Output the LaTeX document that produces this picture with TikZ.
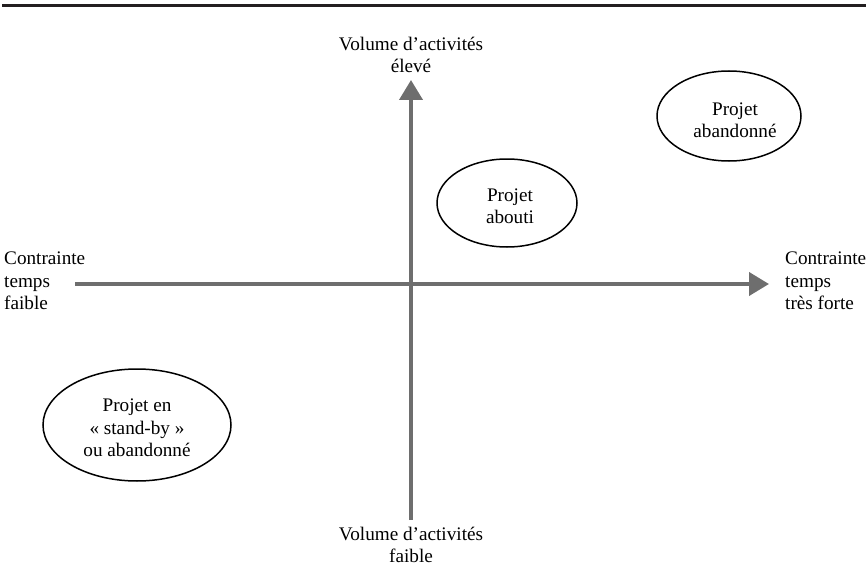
\documentclass[tikz,border=0pt]{standalone}
\usepackage{fontspec}
\setmainfont{Liberation Serif}
\usetikzlibrary{arrows.meta,shapes.geometric}
\definecolor{axisgray}{HTML}{6E6E6E}
\definecolor{rulegray}{HTML}{231F20}
\begin{document}
\begin{tikzpicture}[x=1pt,y=-1pt,
  lbl/.style={font=\fontsize{19.2}{22.5}\selectfont, align=center, inner sep=0pt},
  lblleft/.style={lbl, align=left, anchor=west},
  axisarrow/.style={draw=axisgray, line width=4pt, -{Triangle[length=20pt,width=23pt]}},
  bubble/.style={ellipse, draw=black, line width=1.5pt, inner sep=0pt},
  toprule/.style={draw=rulegray, line width=3pt}]
\useasboundingbox (0,0) rectangle (868,586);

% rule across the top
\coordinate (ruleL) at (2,5.5);
\coordinate (ruleR) at (866,5.5);
\draw[toprule] (ruleL) -- (ruleR);

% axis end points
\coordinate (hL) at (75,284);
\coordinate (hR) at (769,284);
\coordinate (vB) at (411,520);
\coordinate (vT) at (411,80);
\draw[axisarrow] (hL) -- (hR);
\draw[axisarrow] (vB) -- (vT);

% axis labels
\node[lbl] (top) at (411,55) {Volume d’activités\\élevé};
\node[lbl] (bottom) at (411,545) {Volume d’activités\\faible};
\node[lblleft] (left) at (4,281) {Contrainte\\temps\\faible};
\node[lblleft] (right) at (785,281) {Contrainte\\temps\\très forte};

% project outcomes
\node[bubble, minimum width=140pt, minimum height=88pt] (abouti) at (507,203) {};
\node[lbl] (aboutiTxt) at (510,206) {Projet\\abouti};

\node[bubble, minimum width=144pt, minimum height=90pt] (abandon) at (729,116) {};
\node[lbl] (abandonTxt) at (735,120) {Projet\\abandonné};

\node[bubble, minimum width=188pt, minimum height=112pt] (standby) at (137,425) {};
\node[lbl] (standbyTxt) at (137,428) {Projet en\\« stand-by »\\ou abandonné};
\end{tikzpicture}
\end{document}
